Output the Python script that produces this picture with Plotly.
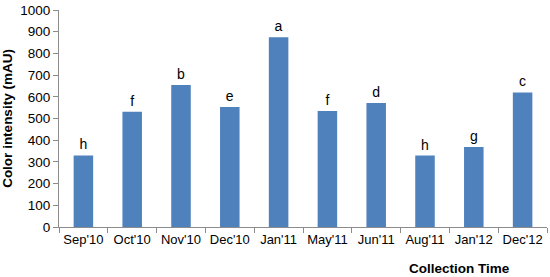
import plotly.graph_objects as go

months = ["Sep'10", "Oct'10", "Nov'10", "Dec'10", "Jan'11",
          "May'11", "Jun'11", "Aug'11", "Jan'12", "Dec'12"]
intensity = [330, 531, 654, 553, 875, 535, 571, 329, 369, 620]
letters = ["h", "f", "b", "e", "a", "f", "d", "h", "g", "c"]

fig = go.Figure(go.Bar(
    x=months,
    y=intensity,
    text=letters,
    textposition='outside',
    textfont=dict(size=14, color='black', family='Liberation Sans'),
    cliponaxis=False,
    marker_color='#4F81BD',
    marker_line_width=0
))

axis_line = dict(showline=True, linecolor='#8c8c8c', linewidth=1,
                 ticks='outside', tickcolor='#8c8c8c', ticklen=5,
                 showgrid=False, zeroline=False)

fig.update_layout(
    width=550, height=277,
    margin=dict(l=59, r=3, t=8, b=50),
    plot_bgcolor='white', paper_bgcolor='white',
    font=dict(family='Liberation Sans', size=13, color='black'),
    bargap=0.6,
    showlegend=False,
    xaxis=dict(tickson='boundaries', tickangle=0, tickfont=dict(size=13),
               **axis_line),
    yaxis=dict(range=[0, 1000], dtick=100, tickfont=dict(size=13.5),
               title=dict(text='<b>Color intensity (mAU)</b>',
                          font=dict(size=13.5), standoff=6),
               **axis_line),
    annotations=[dict(text='<b>Collection Time</b>', x=0.82, y=-0.19,
                      xref='paper', yref='paper', showarrow=False,
                      font=dict(size=13.5), xanchor='center',
                      yanchor='middle')]
)

# drop the default page margin so the figure sits at the window's corner
fig.write_html("out.html", config={'displayModeBar': False},
               post_script="document.body.style.margin='0';")
